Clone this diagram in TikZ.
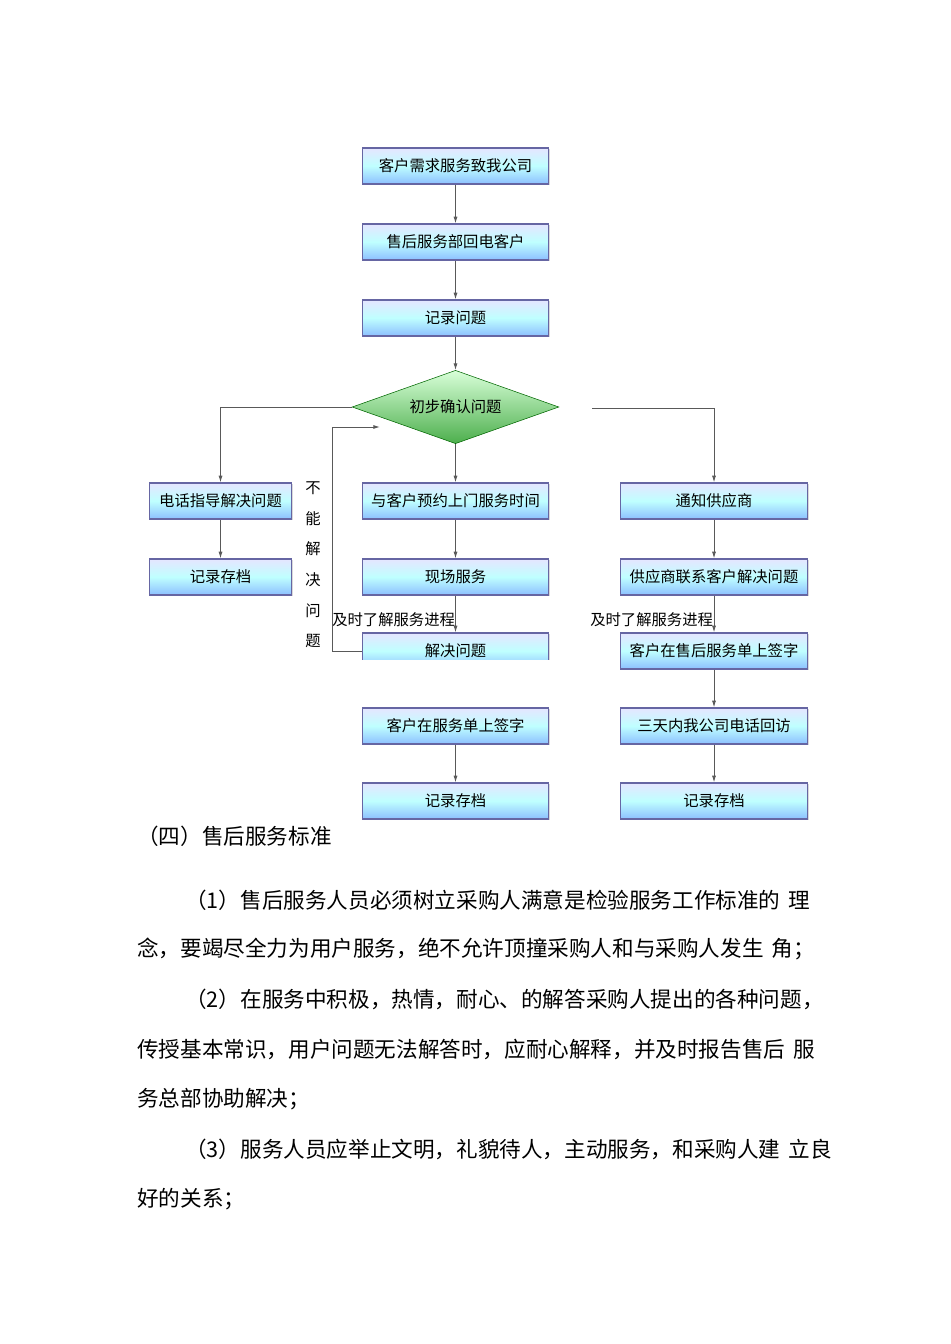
\documentclass[tikz,border=0pt]{standalone}
\usepackage{fontspec}
\setmainfont{Noto Sans CJK SC}
\usetikzlibrary{shapes.geometric,arrows.meta,shadows}
\begin{document}
\begin{tikzpicture}[x=0.75pt,y=-0.75pt,
 box/.style={draw=black!60!blue!60,line width=0.9pt,top color=blue!10!white,bottom color=cyan!45!blue!45!white,middle color=cyan!25!white,minimum height=27pt,inner sep=0pt,font=\fontsize{11.5}{13}\selectfont,drop shadow={shadow xshift=1pt,shadow yshift=-1pt,opacity=.3}},
 cbox/.style={box,minimum width=140pt},
 lbox/.style={box,minimum width=106pt},
 ln/.style={draw=gray!70!black,line width=0.7pt},
 ar/.style={ln,-{Latex[length=5pt,width=3pt]}},
 body/.style={anchor=west,inner sep=0pt,font=\fontsize{16.2}{18}\selectfont}]
\useasboundingbox (0,0) rectangle (950,1344);
\node[cbox] (a1) at (455.5,166) {客户需求服务致我公司};
\node[cbox] (a2) at (455.5,242) {售后服务部回电客户};
\node[cbox] (a3) at (455.5,318) {记录问题};
\node[diamond,draw=green!40!black,top color=green!15!white,bottom color=green!55!black!70!white,aspect=2.8,minimum width=155pt,minimum height=55pt,inner sep=0pt,font=\fontsize{11.5}{13}\selectfont] (d) at (455.5,407) {初步确认问题};
\node[cbox] (a4) at (455.5,501) {与客户预约上门服务时间};
\node[cbox] (a5) at (455.5,577) {现场服务};
\node[cbox] (a6) at (455.5,651) {解决问题};
\fill[white] (355,660) rectangle (560,700);
\node[cbox] (a7) at (455.5,726) {客户在服务单上签字};
\node[cbox] (a8) at (455.5,801) {记录存档};
\node[lbox] (l1) at (220.5,501) {电话指导解决问题};
\node[lbox] (l2) at (220.5,577) {记录存档};
\node[cbox] (r1) at (714,501) {通知供应商};
\node[cbox] (r2) at (714,577) {供应商联系客户解决问题};
\node[cbox] (r3) at (714,651) {客户在售后服务单上签字};
\node[cbox] (r4) at (714,726) {三天内我公司电话回访};
\node[cbox] (r5) at (714,801) {记录存档};
\draw[ar] (a1) -- (a2);
\draw[ar] (a2) -- (a3);
\draw[ar] (a3) -- (d);
\draw[ar] (d) -- (a4);
\draw[ar] (a4) -- (a5);
\draw[ar] (a5) -- (a6);
\draw[ar] (a7) -- (a8);
\draw[ar] (d.west) -| (l1.north);
\draw[ar] (l1) -- (l2);
\coordinate (rs) at (592,408);
\draw[ar] (rs) -| (r1.north);
\draw[ar] (r1) -- (r2);
\draw[ar] (r2) -- (r3);
\draw[ar] (r3) -- (r4);
\draw[ar] (r4) -- (r5);
\coordinate (lp) at (380,427);
\draw[ar] (a6.west) -| (332,427) -- (lp);
\node[font=\fontsize{11.5}{13}\selectfont,align=center,inner sep=0pt] (t1) at (313,565) {不\\[10pt]能\\[10pt]解\\[10pt]决\\[10pt]问\\[10pt]题};
\node[font=\fontsize{11.5}{13}\selectfont,anchor=west,inner sep=0pt] (t2) at (332,620) {及时了解服务进程};
\node[font=\fontsize{11.5}{13}\selectfont,anchor=west,inner sep=0pt] (t3) at (590,620) {及时了解服务进程};
\node[body] (p0) at (137,836) {（四）售后服务标准};
\node[body] (p1) at (185,900) {（1）售后服务人员必须树立采购人满意是检验服务工作标准的\hspace{6pt}理};
\node[body] (p2) at (137,949) {念，要竭尽全力为用户服务，绝不允许顶撞采购人和与采购人发生\hspace{6pt}角；};
\node[body] (p3) at (185,999) {（2）在服务中积极，热情，耐心、的解答采购人提出的各种问题，};
\node[body] (p4) at (137,1049) {传授基本常识，用户问题无法解答时，应耐心解释，并及时报告售后\hspace{6pt}服};
\node[body] (p5) at (137,1099) {务总部协助解决；};
\node[body] (p6) at (185,1149) {（3）服务人员应举止文明，礼貌待人，主动服务，和采购人建\hspace{6pt}立良};
\node[body] (p7) at (137,1199) {好的关系；};
\end{tikzpicture}
\end{document}
